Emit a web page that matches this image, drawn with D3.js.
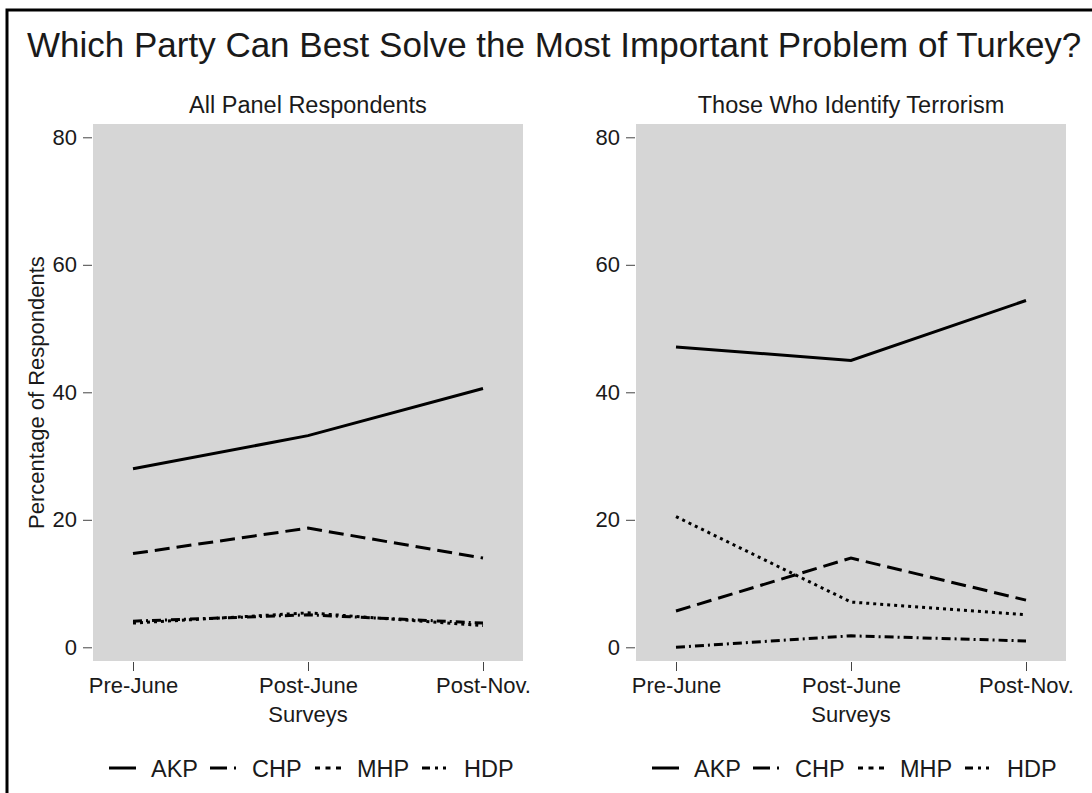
<!DOCTYPE html>
<html>
<head>
<meta charset="utf-8">
<script src="https://cdn.jsdelivr.net/npm/d3@7"></script>
<style>
  html, body { margin: 0; padding: 0; background: #fff; }
  svg { display: block; }
  text { font-family: "Liberation Sans", Arial, Helvetica, sans-serif; fill: #1a1a1a; }
</style>
</head>
<body>
<svg id="chart" width="1092" height="793"></svg>
<script>
// ---- Data ----
const surveys = ["Pre-June", "Post-June", "Post-Nov."];
const parties = ["AKP", "CHP", "MHP", "HDP"];
const yTicks = [0, 20, 40, 60, 80];

const panelTitles = ["All Panel Respondents", "Those Who Identify Terrorism"];

// All panel respondents
const allAKP = [28.0, 33.2, 40.6];
const allCHP = [14.7, 18.7, 14.0];
const allMHP = [3.8, 5.4, 3.4];
const allHDP = [4.1, 5.1, 3.8];

// Those who identify terrorism
const terAKP = [47.1, 45.0, 54.4];
const terCHP = [5.7, 14.0, 7.4];
const terMHP = [20.5, 7.1, 5.1];
const terHDP = [0.0, 1.8, 1.0];

const chartTitle = "Which Party Can Best Solve the Most Important Problem of Turkey?";
const xTitle = "Surveys";
const yTitle = "Percentage of Respondents";

// ---- Styles ----
const lineDash = { AKP: null, CHP: "15,7", MHP: "3,4", HDP: "9,4,2,4" };
const legendDash = { AKP: null, CHP: "17,7,2,30", MHP: "5,5.5", HDP: "8,5,3,5,3,20" };

const svg = d3.select("#chart");

// frame
svg.append("path")
  .attr("d", "M7,793 L7,10 L1092,10")
  .attr("fill", "none").attr("stroke", "#000").attr("stroke-width", 3);

// main title
svg.append("text")
  .attr("x", 27).attr("y", 57)
  .attr("font-size", 35)
  .text(chartTitle);

const panels = [
  { x0: 93, series: { AKP: allAKP, CHP: allCHP, MHP: allMHP, HDP: allHDP }, showYTitle: true },
  { x0: 636, series: { AKP: terAKP, CHP: terCHP, MHP: terMHP, HDP: terHDP }, showYTitle: false }
];

const plotW = 430, plotTop = 124, plotBottom = 661;
const y = d3.scaleLinear().domain([0, 80]).range([647.3, 137.3]);

panels.forEach((p, i) => {
  const g = svg.append("g");
  const x = d3.scalePoint().domain(surveys).range([p.x0 + 40, p.x0 + plotW - 40]);

  // background
  g.append("rect")
    .attr("x", p.x0).attr("y", plotTop)
    .attr("width", plotW).attr("height", plotBottom - plotTop)
    .attr("fill", "#d6d6d6");

  // panel title
  g.append("text")
    .attr("x", p.x0 + plotW / 2).attr("y", 113)
    .attr("text-anchor", "middle").attr("font-size", 23.5)
    .text(panelTitles[i]);

  // y axis
  const yAxis = d3.axisLeft(y).tickValues(yTicks).tickSize(9).tickPadding(6);
  const ya = g.append("g").attr("transform", `translate(${p.x0 - 1},0)`).call(yAxis);
  ya.select(".domain").remove();
  ya.selectAll(".tick line").attr("stroke", "#444").attr("stroke-width", 1);
  ya.selectAll(".tick text").attr("font-size", 22).attr("fill", "#1a1a1a")
    .attr("font-family", "Liberation Sans, Arial, sans-serif");

  // x axis
  const xAxis = d3.axisBottom(x).tickSize(9).tickPadding(6);
  const xa = g.append("g").attr("transform", `translate(0,${plotBottom + 1})`).call(xAxis);
  xa.select(".domain").remove();
  xa.selectAll(".tick line").attr("stroke", "#444").attr("stroke-width", 1);
  xa.selectAll(".tick text").attr("font-size", 22).attr("fill", "#1a1a1a")
    .attr("font-family", "Liberation Sans, Arial, sans-serif");

  // x title
  g.append("text")
    .attr("x", x("Post-June")).attr("y", 722)
    .attr("text-anchor", "middle").attr("font-size", 22)
    .text(xTitle);

  if (p.showYTitle) {
    g.append("text")
      .attr("transform", `translate(44,${(plotTop + plotBottom) / 2}) rotate(-90)`)
      .attr("text-anchor", "middle").attr("font-size", 22)
      .text(yTitle);
  }

  // lines
  const line = d3.line().x((d, j) => x(surveys[j])).y(d => y(d));
  parties.slice().reverse().forEach(party => {
    g.append("path")
      .datum(p.series[party])
      .attr("d", line)
      .attr("fill", "none")
      .attr("stroke", "#000")
      .attr("stroke-width", 3)
      .attr("stroke-dasharray", lineDash[party]);
  });

  // legend
  const legendItems = [
    { party: "AKP", dx: 16 },
    { party: "CHP", dx: 117 },
    { party: "MHP", dx: 222 },
    { party: "HDP", dx: 329 }
  ];
  const lg = g.append("g").attr("transform", `translate(${p.x0},768)`);
  legendItems.forEach(it => {
    lg.append("line")
      .attr("x1", it.dx).attr("x2", it.dx + 27)
      .attr("y1", 0).attr("y2", 0)
      .attr("stroke", "#000").attr("stroke-width", 3)
      .attr("stroke-dasharray", legendDash[it.party]);
    lg.append("text")
      .attr("x", it.dx + 42).attr("y", 9)
      .attr("font-size", 23.5)
      .text(it.party);
  });
});
</script>
</body>
</html>
